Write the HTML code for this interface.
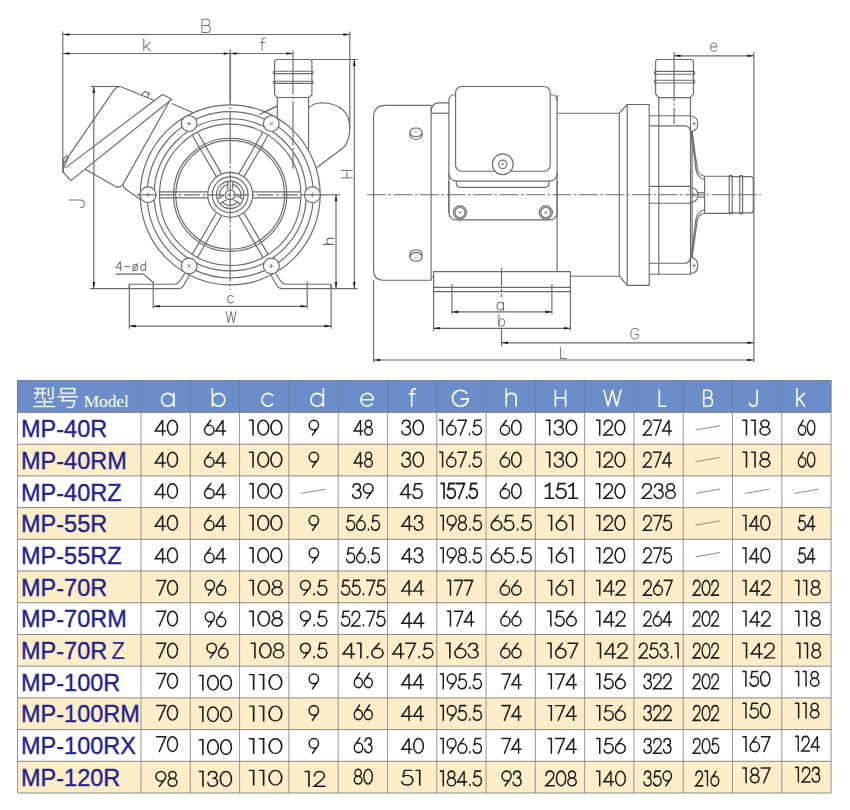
<!DOCTYPE html>
<html><head><meta charset="utf-8"><title>MP pump dimensions</title>
<style>
html,body{margin:0;padding:0;background:#fff;}
body{width:850px;height:810px;overflow:hidden;font-family:"Liberation Sans",sans-serif;}
svg{display:block;position:absolute;left:0;top:0;}
.ah{fill:#1c1c1c;stroke:none;}
.ns path{vector-effect:non-scaling-stroke;}
</style></head><body>
<svg width="850" height="810" viewBox="0 0 850 810">
<g fill="none" stroke="#6a6a6a" stroke-width="1.15" stroke-linecap="butt" stroke-linejoin="round">
<line x1="62.80" y1="31.50" x2="62.80" y2="173.00" />
<line x1="349.80" y1="31.50" x2="349.80" y2="129.00" />
<line x1="62.80" y1="34.50" x2="349.80" y2="34.50" />
<polygon points="62.80,34.50 69.30,33.20 69.30,35.80" class="ah"/>
<polygon points="349.80,34.50 343.30,35.80 343.30,33.20" class="ah"/>
<line x1="62.80" y1="53.50" x2="230.20" y2="53.50" />
<polygon points="62.80,53.50 69.30,52.20 69.30,54.80" class="ah"/>
<polygon points="230.20,53.50 223.70,54.80 223.70,52.20" class="ah"/>
<line x1="230.20" y1="53.50" x2="293.00" y2="53.50" />
<polygon points="230.20,53.50 236.70,52.20 236.70,54.80" class="ah"/>
<polygon points="293.00,53.50 286.50,54.80 286.50,52.20" class="ah"/>
<line x1="230.20" y1="49.50" x2="230.20" y2="104.00" stroke-dasharray="52 2.5 2 2.5"/>
<line x1="137.40" y1="194.80" x2="141.00" y2="194.80" />
<line x1="90.60" y1="86.50" x2="120.00" y2="86.50" />
<line x1="93.80" y1="86.50" x2="93.80" y2="288.60" />
<polygon points="93.80,86.50 95.10,93.00 92.50,93.00" class="ah"/>
<polygon points="93.80,288.60 92.50,282.10 95.10,282.10" class="ah"/>
<line x1="90.00" y1="288.60" x2="178.30" y2="288.60" />
<line x1="312.00" y1="59.50" x2="357.50" y2="59.50" />
<line x1="354.30" y1="59.50" x2="354.30" y2="288.60" />
<polygon points="354.30,59.50 355.60,66.00 353.00,66.00" class="ah"/>
<polygon points="354.30,288.60 353.00,282.10 355.60,282.10" class="ah"/>
<line x1="282.10" y1="288.60" x2="357.50" y2="288.60" />
<line x1="320.00" y1="194.80" x2="340.00" y2="194.80" />
<line x1="336.00" y1="194.80" x2="336.00" y2="288.60" />
<polygon points="336.00,194.80 337.30,201.30 334.70,201.30" class="ah"/>
<polygon points="336.00,288.60 334.70,282.10 337.30,282.10" class="ah"/>
<line x1="153.20" y1="281.20" x2="153.20" y2="308.60" />
<line x1="307.20" y1="281.20" x2="307.20" y2="308.60" />
<line x1="153.20" y1="306.30" x2="307.20" y2="306.30" />
<polygon points="153.20,306.30 159.70,305.00 159.70,307.60" class="ah"/>
<polygon points="307.20,306.30 300.70,307.60 300.70,305.00" class="ah"/>
<line x1="129.30" y1="284.20" x2="129.30" y2="328.80" />
<line x1="331.10" y1="284.20" x2="331.10" y2="328.80" />
<line x1="129.30" y1="326.10" x2="331.10" y2="326.10" />
<polygon points="129.30,326.10 135.80,324.80 135.80,327.40" class="ah"/>
<polygon points="331.10,326.10 324.60,327.40 324.60,324.80" class="ah"/>
<path d="M115.7,274.1 L143.7,274.1 L153.2,282.5" />
<path d="M120.3,86.5 Q116.5,86.6 114.3,89.6 L63.5,163.6 L63.5,172.4 L70.8,180.6 L171.8,99.2 L162.4,94.5 L65.4,167.9" />
<path d="M120.3,86.5 L153.8,100.2" />
<path d="M141.5,95.2 L144.5,91.5 L149.5,93.4 L147.2,97.5" />
<path d="M63.5,163.6 Q62,158 68,155.5 M63.5,168 Q66,163 68.5,157" />
<path d="M85.2,169.3 L115.5,186.6 Q120,188.2 122.8,184.6 L169.6,101" />
<path d="M122.8,184.6 Q123.5,188 126,189.5 L140.5,199.5" />
<path d="M171.8,103.5 L196.5,114.2" />
<path d="M274.6,94.7 L274.6,61.7 Q274.6,59.5 276.8,59.5 L309.7,59.5 Q311.9,59.5 311.9,61.7 L311.9,94.7 L308.6,97.5 L308.6,149.3 M274.6,94.7 L277.3,97.5 L277.3,118 M277.3,97.5 L308.6,97.5" />
<line x1="273.40" y1="71.20" x2="313.10" y2="71.20" />
<line x1="273.40" y1="73.60" x2="313.10" y2="73.60" />
<line x1="273.40" y1="81.20" x2="313.10" y2="81.20" />
<line x1="273.40" y1="83.40" x2="313.10" y2="83.40" />
<path d="M273.4,71.2 L273.4,73.6 M313.1,71.2 L313.1,73.6 M273.4,81.2 L273.4,83.4 M313.1,81.2 L313.1,83.4" />
<path d="M259.5,114.5 L277.3,106" />
<path d="M308.6,107.9 Q314,102.7 322.5,102.7 Q349.8,104 349.8,128.5 Q349.8,139 344.5,146.7 L316.6,167.7" />
<path d="M129.3,288.6 L129.3,284.2 L174.5,284.2 Q177.8,284.2 179.4,281.5 L184.8,273.6" />
<path d="M178.3,288.6 Q181.8,288.6 183.4,285.8 L190.2,274" />
<path d="M331.10,288.6 L331.10,284.2 L285.90,284.2 Q282.60,284.2 281.00,281.5 L275.60,273.6" />
<path d="M282.10,288.6 Q278.60,288.6 277.00,285.8 L270.20,274" />
<circle cx="230.20" cy="194.80" r="90.00" fill="#fff"/>
<circle cx="230.20" cy="194.80" r="83.20" />
<circle cx="230.20" cy="194.80" r="76.10" />
<circle cx="230.20" cy="194.80" r="70.70" />
<line x1="230.20" y1="52.70" x2="230.20" y2="290.00" stroke-dasharray="52 2.5 2 2.5"/>
<line x1="137.40" y1="194.80" x2="321.50" y2="194.80" stroke-dasharray="16 3 3 2.5" stroke-dashoffset="2.7"/>
<path d="M259.5,114.5 L277.3,106" />
<line x1="293.00" y1="50.50" x2="293.00" y2="168.50" stroke-dasharray="44 2.5 2 2.5"/>
<circle cx="230.20" cy="194.80" r="56.60" />
<circle cx="230.20" cy="194.80" r="54.40" />
<line x1="252.60" y1="197.80" x2="300.70" y2="197.80" />
<line x1="252.60" y1="191.80" x2="300.70" y2="191.80" />
<line x1="238.80" y1="215.70" x2="262.85" y2="257.35" />
<line x1="244.00" y1="212.70" x2="268.05" y2="254.35" />
<line x1="216.40" y1="212.70" x2="192.35" y2="254.35" />
<line x1="221.60" y1="215.70" x2="197.55" y2="257.35" />
<line x1="207.80" y1="191.80" x2="159.70" y2="191.80" />
<line x1="207.80" y1="197.80" x2="159.70" y2="197.80" />
<line x1="221.60" y1="173.90" x2="197.55" y2="132.25" />
<line x1="216.40" y1="176.90" x2="192.35" y2="135.25" />
<line x1="244.00" y1="176.90" x2="268.05" y2="135.25" />
<line x1="238.80" y1="173.90" x2="262.85" y2="132.25" />
<circle cx="230.20" cy="194.80" r="22.50" />
<circle cx="230.20" cy="194.80" r="17.90" />
<circle cx="230.20" cy="194.80" r="13.70" />
<path d="M238.32,201.61 A10.6,10.6 0 0 1 222.08,201.61" />
<path d="M220.24,198.43 A10.6,10.6 0 0 1 228.36,184.36" />
<path d="M232.04,184.36 A10.6,10.6 0 0 1 240.16,198.43" />
<circle cx="230.20" cy="194.80" r="4.90" />
<circle cx="230.20" cy="194.80" r="0.80" fill="#444" stroke="none"/>
<line x1="232.80" y1="189.30" x2="232.80" y2="181.30" />
<line x1="227.60" y1="189.30" x2="227.60" y2="181.30" />
<line x1="233.66" y1="199.80" x2="240.59" y2="203.80" />
<line x1="236.26" y1="195.30" x2="243.19" y2="199.30" />
<line x1="224.14" y1="195.30" x2="217.21" y2="199.30" />
<line x1="226.74" y1="199.80" x2="219.81" y2="203.80" />
<circle cx="312.40" cy="194.80" r="7.90" fill="#fff"/>
<path d="M310.20,194.80 L314.60,194.80 M312.40,192.60 L312.40,197.00" stroke-width="0.8"/>
<circle cx="271.30" cy="265.99" r="7.90" fill="#fff"/>
<path d="M269.10,265.99 L273.50,265.99 M271.30,263.79 L271.30,268.19" stroke-width="0.8"/>
<circle cx="189.10" cy="265.99" r="7.90" fill="#fff"/>
<path d="M187.34,264.23 L190.86,267.75 M187.34,267.75 L190.86,264.23" stroke-width="0.8"/>
<circle cx="148.00" cy="194.80" r="7.90" fill="#fff"/>
<path d="M145.80,194.80 L150.20,194.80 M148.00,192.60 L148.00,197.00" stroke-width="0.8"/>
<circle cx="189.10" cy="123.61" r="7.90" fill="#fff"/>
<path d="M186.90,123.61 L191.30,123.61 M189.10,121.41 L189.10,125.81" stroke-width="0.8"/>
<circle cx="271.30" cy="123.61" r="7.90" fill="#fff"/>
<path d="M269.54,121.85 L273.06,125.37 M269.54,125.37 L273.06,121.85" stroke-width="0.8"/>
<line x1="141.00" y1="194.80" x2="157.00" y2="194.80" />
<line x1="304.00" y1="194.80" x2="322.00" y2="194.80" />
<path d="M431.1,105.3 L385.6,105.3 Q373.6,105.3 373.6,117.3 L373.6,270.5 Q373.6,280.2 383.3,280.2 L431.1,280.2 Z" />
<ellipse cx="416" cy="132.4" rx="6.1" ry="4.4"/>
<path d="M409.9,132.4 L409.9,135.0 A6.1,4.4 0 0 0 422.1,135.0 L422.1,132.4" />
<path d="M414.6,132.20000000000002 L416,130.8 L417.4,132.20000000000002" stroke-width="0.8"/>
<ellipse cx="416" cy="256.8" rx="6.1" ry="4.4"/>
<path d="M409.9,256.8 L409.9,254.20000000000002 A6.1,4.4 0 0 1 422.1,254.20000000000002 L422.1,256.8" />
<path d="M414.6,257.0 L416,258.40000000000003 L417.4,257.0" stroke-width="0.8"/>
<path d="M431.1,111.5 Q431.6,102.8 439,102.8 L448.9,102.8" />
<line x1="431.10" y1="113.20" x2="448.90" y2="113.20" />
<line x1="557.10" y1="113.20" x2="619.30" y2="113.20" />
<line x1="570.40" y1="276.20" x2="619.30" y2="276.20" />
<line x1="557.10" y1="94.70" x2="557.10" y2="271.60" />
<path d="M448.9,213 L448.9,100.7 Q448.9,94.7 454.9,94.7 L455.6,94.7 M550.2,94.7 L551.1,94.7 Q557.1,94.7 557.1,100.7" />
<path d="M448.9,173.1 Q448.9,181.1 456.9,181.1 L549.1,181.1 Q557.1,181.1 557.1,173.1" />
<rect x="455.60" y="86.50" width="94.60" height="84.70" rx="6" ry="6" fill="#fff"/>
<path d="M456.3,181.1 L456.3,183.3 Q456.3,187.3 460.3,187.3 L545,187.3 Q549,187.3 549,183.3 L549,181.1" />
<path d="M448.9,181 L448.9,211.9 Q448.9,219.9 456.9,219.9 L549.1,219.9 Q557.1,219.9 557.1,211.9 L557.1,181" />
<circle cx="502.80" cy="164.30" r="10.40" fill="#fff"/>
<circle cx="502.80" cy="164.30" r="4.20" />
<path d="M501.3,162.8 L504.3,165.8 M501.3,165.8 L504.3,162.8" stroke-width="0.8"/>
<circle cx="460.00" cy="212.50" r="6.60" />
<circle cx="460.00" cy="212.50" r="5.00" />
<path d="M458.5,211.0 L461.5,214.0 M458.5,214.0 L461.5,211.0" stroke-width="0.8"/>
<circle cx="545.80" cy="212.50" r="6.60" />
<circle cx="545.80" cy="212.50" r="5.00" />
<path d="M544.3,211.0 L547.3,214.0 M544.3,214.0 L547.3,211.0" stroke-width="0.8"/>
<path d="M431.1,277 L433.6,277 M433.6,330.9 L433.6,271.6 L570.4,271.6 L570.4,330.5" />
<line x1="433.60" y1="287.30" x2="570.40" y2="287.30" />
<line x1="433.60" y1="291.60" x2="570.40" y2="291.60" />
<path d="M619.3,113.2 L627.2,104.5 L649.2,104.5 L649.2,285.4 L627.2,285.4 L619.3,276.2 Z" />
<line x1="627.20" y1="104.50" x2="627.20" y2="285.40" />
<path d="M649.2,115.7 L690.5,115.7 L690.5,274.2 L649.2,274.2" />
<path d="M649.2,125.9 L685.5,125.9 Q690,126.5 690.5,131.5 M649.2,263.2 L685.5,263.2 Q690,262.6 690.5,257.6" />
<line x1="658.80" y1="97.50" x2="658.80" y2="274.20" />
<line x1="649.20" y1="186.40" x2="690.50" y2="186.40" />
<line x1="649.20" y1="203.20" x2="690.50" y2="203.20" />
<line x1="692.10" y1="131.50" x2="692.10" y2="257.60" />
<path d="M690.5,115.7 Q697.8,116.7 697.8,123.65 Q697.8,130.6 690.5,131.6" />
<path d="M694,121.45 L694,125.85000000000001 M692.5,123.65 L696,123.65" stroke-width="0.8"/>
<path d="M690.5,257.4 Q697.8,258.4 697.8,265.6 Q697.8,272.8 690.5,273.8" />
<path d="M694,263.40000000000003 L694,267.8 M692.5,265.6 L696,265.6" stroke-width="0.8"/>
<path d="M690.5,187.2 Q697.8,188.2 697.8,194.89999999999998 Q697.8,201.6 690.5,202.6" />
<path d="M694,192.7 L694,197.09999999999997 M692.5,194.89999999999998 L696,194.89999999999998" stroke-width="0.8"/>
<path d="M692.1,131.7 L697.3,169 Q698.5,175.5 704.6,176.2 M690.9,131.7 L696,170 Q697.5,178 704.6,179.5" />
<path d="M692.1,257.4 L697.3,220.2 Q698.5,213.9 704.6,213.3 M690.9,257.4 L696,219.2 Q697.5,211.2 704.6,209.8" />
<line x1="697.80" y1="192.70" x2="704.60" y2="192.70" />
<line x1="697.80" y1="197.00" x2="704.60" y2="197.00" />
<path d="M704.6,176.2 L704.6,213.3 M704.6,176.2 L729.2,176.2 M704.6,213.3 L729.2,213.3" />
<path d="M729.2,176.6 L750.3,176.6 Q753.3,176.6 753.3,179.6 L753.3,209.9 Q753.3,212.9 750.3,212.9 L729.2,212.9" />
<line x1="729.20" y1="175.60" x2="729.20" y2="213.90" />
<line x1="732.20" y1="175.60" x2="732.20" y2="213.90" />
<line x1="739.80" y1="175.60" x2="739.80" y2="213.90" />
<line x1="742.60" y1="175.60" x2="742.60" y2="213.90" />
<path d="M729.2,175.6 L732.2,175.6 M739.8,175.6 L742.6,175.6 M729.2,213.9 L732.2,213.9 M739.8,213.9 L742.6,213.9" />
<path d="M655.6,94 L655.6,61.7 Q655.6,59.5 657.8000000000001,59.5 L691.1999999999999,59.5 Q693.4,59.5 693.4,61.7 L693.4,94 L690.4,97.6 L690.4,115.7 M655.6,94 L658.8,97.6 L690.4,97.6" />
<line x1="654.50" y1="71.40" x2="694.50" y2="71.40" />
<line x1="654.50" y1="74.20" x2="694.50" y2="74.20" />
<line x1="654.50" y1="80.20" x2="694.50" y2="80.20" />
<line x1="654.50" y1="83.00" x2="694.50" y2="83.00" />
<path d="M654.5,71.4 L654.5,74.2 M694.5,71.4 L694.5,74.2 M654.5,80.2 L654.5,83 M694.5,80.2 L694.5,83" />
<line x1="367.00" y1="194.70" x2="761.00" y2="194.70" stroke-dasharray="19 2.5 2.5 2.5"/>
<line x1="674.10" y1="52.00" x2="674.10" y2="124.00" stroke-dasharray="49 2.5 2 2.5"/>
<line x1="501.50" y1="268.00" x2="501.50" y2="297.00" stroke-dasharray="18.5 2.5 2 2.5"/>
<line x1="501.50" y1="328.30" x2="501.50" y2="346.00" />
<line x1="674.10" y1="55.80" x2="753.90" y2="55.80" />
<polygon points="674.10,55.80 680.60,54.50 680.60,57.10" class="ah"/>
<polygon points="753.90,55.80 747.40,57.10 747.40,54.50" class="ah"/>
<line x1="753.90" y1="52.00" x2="753.90" y2="362.50" />
<line x1="451.90" y1="284.00" x2="451.90" y2="314.20" />
<line x1="551.90" y1="284.00" x2="551.90" y2="314.20" />
<line x1="451.90" y1="311.90" x2="551.90" y2="311.90" />
<polygon points="451.90,311.90 458.40,310.60 458.40,313.20" class="ah"/>
<polygon points="551.90,311.90 545.40,313.20 545.40,310.60" class="ah"/>
<line x1="433.60" y1="328.30" x2="570.40" y2="328.30" />
<polygon points="433.60,328.30 440.10,327.00 440.10,329.60" class="ah"/>
<polygon points="570.40,328.30 563.90,329.60 563.90,327.00" class="ah"/>
<line x1="501.50" y1="342.80" x2="753.90" y2="342.80" />
<polygon points="501.50,342.80 508.00,341.50 508.00,344.10" class="ah"/>
<polygon points="753.90,342.80 747.40,344.10 747.40,341.50" class="ah"/>
<line x1="373.60" y1="280.00" x2="373.60" y2="362.50" />
<line x1="373.60" y1="360.00" x2="753.90" y2="360.00" />
<polygon points="373.60,360.00 380.10,358.70 380.10,361.30" class="ah"/>
<polygon points="753.90,360.00 747.40,361.30 747.40,358.70" class="ah"/>
</g>
<g fill="none" stroke="#707070" stroke-linecap="round" stroke-linejoin="round">
<g class="lbl" stroke-width="0.0752" transform="translate(206.20,25.80) rotate(0) scale(11.970,-13.300) translate(0,-0.5)"><path d="M0,0 L0,1 L0.4,1 Q0.66,1 0.66,0.76 Q0.66,0.52 0.4,0.52 L0,0.52 M0.4,0.52 Q0.72,0.52 0.72,0.26 Q0.72,0 0.4,0 L0,0" transform="translate(-0.360,0)"/></g>
<g class="lbl" stroke-width="0.0820" transform="translate(147.00,44.60) rotate(0) scale(12.810,-12.200) translate(0,-0.5)"><path d="M0,0 L0,1 M0.48,0.66 L0,0.22 M0.17,0.38 L0.5,0" transform="translate(-0.250,0)"/></g>
<g class="lbl" stroke-width="0.0794" transform="translate(262.70,44.20) rotate(0) scale(11.970,-12.600) translate(0,-0.5)"><path d="M0.16,0 L0.16,0.78 Q0.16,1 0.42,1 M0,0.64 L0.4,0.64" transform="translate(-0.210,0)"/></g>
<g class="lbl" stroke-width="0.0667" transform="translate(76.80,203.70) rotate(-90) scale(15.000,-15.000) translate(0,-0.5)"><path d="M0.5,1 L0.5,0.26 Q0.5,0 0.25,0 Q0,0 0,0.26" transform="translate(-0.250,0)"/></g>
<g class="lbl" stroke-width="0.0917" transform="translate(346.90,174.10) rotate(-90) scale(10.900,-10.900) translate(0,-0.5)"><path d="M0,0 L0,1 M0.68,0 L0.68,1 M0,0.5 L0.68,0.5" transform="translate(-0.340,0)"/></g>
<g class="lbl" stroke-width="0.0917" transform="translate(328.60,241.40) rotate(-90) scale(11.990,-10.900) translate(0,-0.5)"><path d="M0,0 L0,1 M0,0.42 Q0.02,0.66 0.26,0.66 Q0.5,0.66 0.5,0.42 L0.5,0" transform="translate(-0.250,0)"/></g>
<g class="lbl" stroke-width="0.0893" transform="translate(230.50,299.30) rotate(0) scale(11.200,-11.200) translate(0,-0.33)"><path d="M0.5,0.52 Q0.46,0.66 0.27,0.66 Q0,0.66 0,0.33 Q0,0 0.27,0 Q0.46,0 0.5,0.14" transform="translate(-0.250,0)"/></g>
<g class="lbl" stroke-width="0.0893" transform="translate(231.00,317.00) rotate(0) scale(10.976,-11.200) translate(0,-0.5)"><path d="M0,1 L0.22,0 L0.45,1 L0.68,0 L0.9,1" transform="translate(-0.450,0)"/></g>
<g class="lbl" stroke-width="0.1087" transform="translate(130.80,266.00) rotate(0) scale(9.660,-9.200) translate(0,-0.5)"><path d="M0.45,0 L0.45,1 L0,0.3 L0.6,0.3" transform="translate(-1.530,0)"/><path d="M0,0.45 L0.5,0.45" transform="translate(-0.610,0)"/><path d="M0.25,0.66 Q0,0.66 0,0.33 Q0,0 0.25,0 Q0.5,0 0.5,0.33 Q0.5,0.66 0.25,0.66 Z M0.02,-0.08 L0.5,0.76" transform="translate(0.210,0)"/><path d="M0.5,1 L0.5,0 M0.5,0.33 Q0.5,0.66 0.25,0.66 Q0,0.66 0,0.33 Q0,0 0.25,0 Q0.5,0 0.5,0.33" transform="translate(1.030,0)"/></g>
<g class="lbl" stroke-width="0.0800" transform="translate(713.80,47.20) rotate(0) scale(12.500,-12.500) translate(0,-0.33)"><path d="M0,0.35 L0.52,0.35 Q0.52,0.66 0.26,0.66 Q0,0.66 0,0.33 Q0,0 0.27,0 Q0.45,0 0.5,0.13" transform="translate(-0.260,0)"/></g>
<g class="lbl" stroke-width="0.0862" transform="translate(500.30,306.20) rotate(0) scale(12.760,-11.600) translate(0,-0.33)"><path d="M0.5,0.66 L0.5,0 M0.5,0.33 Q0.5,0.66 0.25,0.66 Q0,0.66 0,0.33 Q0,0 0.25,0 Q0.5,0 0.5,0.33" transform="translate(-0.250,0)"/></g>
<g class="lbl" stroke-width="0.0862" transform="translate(501.80,320.50) rotate(0) scale(11.600,-11.600) translate(0,-0.5)"><path d="M0,1 L0,0 M0,0.33 Q0,0.66 0.25,0.66 Q0.5,0.66 0.5,0.33 Q0.5,0 0.25,0 Q0,0 0,0.33" transform="translate(-0.250,0)"/></g>
<g class="lbl" stroke-width="0.0917" transform="translate(634.70,333.70) rotate(0) scale(10.682,-10.900) translate(0,-0.5)"><path d="M0.7,0.78 Q0.62,1 0.38,1 Q0,1 0,0.5 Q0,0 0.38,0 Q0.72,0 0.72,0.42 L0.4,0.42" transform="translate(-0.360,0)"/></g>
<g class="lbl" stroke-width="0.0901" transform="translate(563.30,353.00) rotate(0) scale(10.545,-11.100) translate(0,-0.5)"><path d="M0,1 L0,0 L0.55,0" transform="translate(-0.275,0)"/></g>
</g>
<rect x="17.5" y="380.5" width="813.6" height="32.0" fill="#6b8ecb"/>
<rect x="17.5" y="444.21" width="813.6" height="31.71" fill="#fdedc8"/>
<rect x="17.5" y="507.62" width="813.6" height="31.71" fill="#fdedc8"/>
<rect x="17.5" y="571.04" width="813.6" height="31.71" fill="#fdedc8"/>
<rect x="17.5" y="634.46" width="813.6" height="31.71" fill="#fdedc8"/>
<rect x="17.5" y="697.88" width="813.6" height="31.71" fill="#fdedc8"/>
<rect x="17.5" y="761.29" width="813.6" height="31.71" fill="#fdedc8"/>
<g stroke="#8a8a8a" stroke-width="1" fill="none">
<line x1="17.50" y1="412.50" x2="17.50" y2="793.00" stroke="#969696"/>
<line x1="141.00" y1="412.50" x2="141.00" y2="793.00" stroke="#969696"/>
<line x1="190.29" y1="412.50" x2="190.29" y2="793.00" stroke="#969696"/>
<line x1="239.59" y1="412.50" x2="239.59" y2="793.00" stroke="#969696"/>
<line x1="288.88" y1="412.50" x2="288.88" y2="793.00" stroke="#969696"/>
<line x1="338.17" y1="412.50" x2="338.17" y2="793.00" stroke="#969696"/>
<line x1="387.46" y1="412.50" x2="387.46" y2="793.00" stroke="#969696"/>
<line x1="436.76" y1="412.50" x2="436.76" y2="793.00" stroke="#969696"/>
<line x1="486.05" y1="412.50" x2="486.05" y2="793.00" stroke="#969696"/>
<line x1="535.34" y1="412.50" x2="535.34" y2="793.00" stroke="#969696"/>
<line x1="584.64" y1="412.50" x2="584.64" y2="793.00" stroke="#969696"/>
<line x1="633.93" y1="412.50" x2="633.93" y2="793.00" stroke="#969696"/>
<line x1="683.22" y1="412.50" x2="683.22" y2="793.00" stroke="#969696"/>
<line x1="732.51" y1="412.50" x2="732.51" y2="793.00" stroke="#969696"/>
<line x1="781.81" y1="412.50" x2="781.81" y2="793.00" stroke="#969696"/>
<line x1="831.10" y1="412.50" x2="831.10" y2="793.00" stroke="#969696"/>
<line x1="17.50" y1="412.50" x2="831.10" y2="412.50" />
<line x1="17.50" y1="444.21" x2="831.10" y2="444.21" />
<line x1="17.50" y1="475.92" x2="831.10" y2="475.92" />
<line x1="17.50" y1="507.62" x2="831.10" y2="507.62" />
<line x1="17.50" y1="539.33" x2="831.10" y2="539.33" />
<line x1="17.50" y1="571.04" x2="831.10" y2="571.04" />
<line x1="17.50" y1="602.75" x2="831.10" y2="602.75" />
<line x1="17.50" y1="634.46" x2="831.10" y2="634.46" />
<line x1="17.50" y1="666.17" x2="831.10" y2="666.17" />
<line x1="17.50" y1="697.88" x2="831.10" y2="697.88" />
<line x1="17.50" y1="729.58" x2="831.10" y2="729.58" />
<line x1="17.50" y1="761.29" x2="831.10" y2="761.29" />
<line x1="17.50" y1="793.00" x2="831.10" y2="793.00" />
</g>
<g stroke="#6f7c9c" stroke-width="1" fill="none">
<line x1="17.50" y1="380.50" x2="17.50" y2="412.50" />
<line x1="141.00" y1="380.50" x2="141.00" y2="412.50" />
<line x1="190.29" y1="380.50" x2="190.29" y2="412.50" />
<line x1="239.59" y1="380.50" x2="239.59" y2="412.50" />
<line x1="288.88" y1="380.50" x2="288.88" y2="412.50" />
<line x1="338.17" y1="380.50" x2="338.17" y2="412.50" />
<line x1="387.46" y1="380.50" x2="387.46" y2="412.50" />
<line x1="436.76" y1="380.50" x2="436.76" y2="412.50" />
<line x1="486.05" y1="380.50" x2="486.05" y2="412.50" />
<line x1="535.34" y1="380.50" x2="535.34" y2="412.50" />
<line x1="584.64" y1="380.50" x2="584.64" y2="412.50" />
<line x1="633.93" y1="380.50" x2="633.93" y2="412.50" />
<line x1="683.22" y1="380.50" x2="683.22" y2="412.50" />
<line x1="732.51" y1="380.50" x2="732.51" y2="412.50" />
<line x1="781.81" y1="380.50" x2="781.81" y2="412.50" />
<line x1="831.10" y1="380.50" x2="831.10" y2="412.50" />
<line x1="17.00" y1="380.50" x2="831.60" y2="380.50" stroke="#7a7f8c"/>
</g>
<defs>
<path id="g0" d="M0.730,0.500 A0.330,0.500 0 1 0 0.070,0.500 A0.330,0.500 0 1 0 0.730,0.500 Z"/>
<path id="g1" d="M0.085,1 L0.30,1 L0.30,0"/>
<path id="g2" d="M0.10,0.80 L0.36,1 L0.36,0 M0.10,0 L0.62,0"/>
<path id="g3" d="M0.09,0.70 C0.09,0.88 0.21,1 0.37,1 C0.53,1 0.65,0.88 0.65,0.72 C0.65,0.58 0.57,0.49 0.46,0.39 L0.07,0 L0.68,0"/>
<path id="g4" d="M0.10,0.76 C0.12,0.91 0.22,1 0.35,1 C0.50,1 0.60,0.90 0.60,0.77 C0.60,0.63 0.50,0.55 0.33,0.55 C0.52,0.55 0.64,0.44 0.64,0.28 C0.64,0.12 0.52,0 0.35,0 C0.20,0 0.09,0.10 0.07,0.25"/>
<path id="g5" d="M0.55,0 L0.55,1 L0.06,0.27 L0.73,0.27"/>
<path id="g6" d="M0.62,1 L0.22,1 L0.13,0.54 C0.19,0.62 0.28,0.66 0.37,0.66 C0.55,0.66 0.68,0.51 0.68,0.33 C0.68,0.14 0.55,0 0.36,0 C0.21,0 0.10,0.09 0.07,0.23"/>
<path id="g7" d="M0.730,0.330 A0.330,0.330 0 1 0 0.070,0.330 A0.330,0.330 0 1 0 0.730,0.330 Z M0.115,0.50 L0.50,1"/>
<path id="g8" d="M0.730,0.670 A0.330,0.330 0 1 0 0.070,0.670 A0.330,0.330 0 1 0 0.730,0.670 Z M0.685,0.50 L0.30,0"/>
<path id="g9" d="M0.06,1 L0.66,1 L0.24,0"/>
<path id="g10" d="M0.625,0.765 A0.245,0.235 0 1 0 0.135,0.765 A0.245,0.235 0 1 0 0.625,0.765 Z M0.680,0.265 A0.300,0.265 0 1 0 0.080,0.265 A0.300,0.265 0 1 0 0.680,0.265 Z"/>
<path id="g11" d="M0.17,0.09 L0.17,0.01"/>
<path id="g12" d="M0.870,0.400 A0.390,0.400 0 1 0 0.090,0.400 A0.390,0.400 0 1 0 0.870,0.400 Z M0.87,0.8 L0.87,0"/>
<path id="g13" d="M0.910,0.400 A0.390,0.400 0 1 0 0.130,0.400 A0.390,0.400 0 1 0 0.910,0.400 Z M0.13,1.08 L0.13,0"/>
<path id="g14" d="M0.870,0.400 A0.390,0.400 0 1 0 0.090,0.400 A0.390,0.400 0 1 0 0.870,0.400 Z M0.87,1.08 L0.87,0"/>
<path id="g15" d="M0.790,0.668 A0.390,0.400 0 1 1 0.790,0.132"/>
<path id="g16" d="M0.09,0.40 L0.87,0.40 M0.870,0.400 A0.390,0.400 0 1 1 0.787,0.154"/>
<path id="g17" d="M0.16,0 L0.16,0.86 C0.16,1.02 0.24,1.08 0.40,1.08 M0.02,0.77 L0.36,0.77"/>
<path id="g18" d="M0.969,0.808 A0.500,0.500 0 1 1 1.073,0.456 L0.62,0.456"/>
<path id="g19" d="M0.10,1.08 L0.10,0 M0.10,0.50 C0.10,0.70 0.22,0.80 0.41,0.80 C0.60,0.80 0.72,0.70 0.72,0.50 L0.72,0"/>
<path id="g20" d="M0.10,1 L0.10,0 M0.74,1 L0.74,0 M0.10,0.51 L0.74,0.51"/>
<path id="g21" d="M0.04,1 L0.30,0 L0.57,1 L0.84,0 L1.10,1"/>
<path id="g22" d="M0.10,1 L0.10,0 L0.50,0"/>
<path id="g23" d="M0.10,0 L0.10,1 L0.34,1 C0.52,1 0.60,0.90 0.60,0.76 C0.60,0.62 0.52,0.53 0.36,0.53 L0.10,0.53 M0.36,0.53 C0.56,0.53 0.65,0.42 0.65,0.27 C0.65,0.11 0.55,0 0.36,0 L0.10,0"/>
<path id="g24" d="M0.52,1 L0.52,0.24 C0.52,0.08 0.44,0 0.29,0 C0.16,0 0.08,0.07 0.05,0.18"/>
<path id="g25" d="M0.10,1.08 L0.10,0 M0.56,0.80 L0.10,0.34 M0.24,0.48 L0.58,0"/>
</defs>
<g fill="#fff" stroke="#fff" stroke-width="16" transform="translate(32.3,406.2) scale(0.024,-0.023)"><path d="M649 778V445H695V778ZM838 832V373C838 359 834 355 818 354C802 353 752 353 688 355C696 341 703 322 706 308C778 308 826 309 851 317C877 325 884 339 884 372V832ZM403 746V590H255V605V746ZM74 590V545H206C197 470 165 390 73 328C82 320 99 303 106 293C207 362 242 457 252 545H403V318H449V545H575V590H449V746H555V791H107V746H210V606V590ZM485 339V208H154V163H485V8H48V-38H953V8H533V163H845V208H533V339Z"/><path d="M241 745H757V584H241ZM193 790V540H807V790ZM69 433V388H286C266 328 241 258 220 211H249L749 210C726 67 705 2 675 -20C664 -29 653 -30 627 -30C601 -30 529 -29 456 -21C466 -35 471 -54 473 -68C542 -73 609 -74 640 -73C675 -72 694 -68 714 -52C750 -20 776 54 803 230C805 238 806 255 806 255H293C308 296 325 344 338 388H928V433Z" transform="translate(980,0)"/></g>
<text x="83.7" y="407.3" font-family="Liberation Serif, serif" font-size="17.3" fill="#fff">Model</text>
<g fill="none" stroke="#fff" stroke-width="0.1000" stroke-linecap="round" stroke-miterlimit="3" transform="translate(168.10,406.20) scale(16.000,-16.000)"><use href="#g12" x="-0.500"/></g>
<g fill="none" stroke="#fff" stroke-width="0.1000" stroke-linecap="round" stroke-miterlimit="3" transform="translate(218.30,406.20) scale(16.000,-16.000)"><use href="#g13" x="-0.500"/></g>
<g fill="none" stroke="#fff" stroke-width="0.1000" stroke-linecap="round" stroke-miterlimit="3" transform="translate(267.50,406.20) scale(16.000,-16.000)"><use href="#g15" x="-0.460"/></g>
<g fill="none" stroke="#fff" stroke-width="0.1000" stroke-linecap="round" stroke-miterlimit="3" transform="translate(317.50,406.20) scale(16.000,-16.000)"><use href="#g14" x="-0.500"/></g>
<g fill="none" stroke="#fff" stroke-width="0.1000" stroke-linecap="round" stroke-miterlimit="3" transform="translate(367.10,406.20) scale(16.000,-16.000)"><use href="#g16" x="-0.480"/></g>
<g fill="none" stroke="#fff" stroke-width="0.1000" stroke-linecap="round" stroke-miterlimit="3" transform="translate(412.70,406.20) scale(16.000,-16.000)"><use href="#g17" x="-0.225"/></g>
<g fill="none" stroke="#fff" stroke-width="0.1000" stroke-linecap="round" stroke-miterlimit="3" transform="translate(460.50,406.20) scale(16.000,-16.000)"><use href="#g18" x="-0.575"/></g>
<g fill="none" stroke="#fff" stroke-width="0.1000" stroke-linecap="round" stroke-miterlimit="3" transform="translate(511.20,406.20) scale(16.000,-16.000)"><use href="#g19" x="-0.410"/></g>
<g fill="none" stroke="#fff" stroke-width="0.1000" stroke-linecap="round" stroke-miterlimit="3" transform="translate(560.50,406.20) scale(16.000,-16.000)"><use href="#g20" x="-0.420"/></g>
<g fill="none" stroke="#fff" stroke-width="0.1000" stroke-linecap="round" stroke-miterlimit="3" transform="translate(612.40,406.20) scale(16.000,-16.000)"><use href="#g21" x="-0.570"/></g>
<g fill="none" stroke="#fff" stroke-width="0.1000" stroke-linecap="round" stroke-miterlimit="3" transform="translate(662.10,406.20) scale(16.000,-16.000)"><use href="#g22" x="-0.275"/></g>
<g fill="none" stroke="#fff" stroke-width="0.1000" stroke-linecap="round" stroke-miterlimit="3" transform="translate(707.90,406.20) scale(16.000,-16.000)"><use href="#g23" x="-0.360"/></g>
<g fill="none" stroke="#fff" stroke-width="0.1000" stroke-linecap="round" stroke-miterlimit="3" transform="translate(753.70,406.20) scale(16.000,-16.000)"><use href="#g24" x="-0.310"/></g>
<g fill="none" stroke="#fff" stroke-width="0.1000" stroke-linecap="round" stroke-miterlimit="3" transform="translate(800.30,406.20) scale(16.000,-16.000)"><use href="#g25" x="-0.310"/></g>
<g font-family="Liberation Sans, sans-serif">
<text x="21" y="437.10" font-size="23.5" fill="#23238e" stroke="#23238e" stroke-width="0.35">MP-40R</text>
<g fill="none" stroke="#1c1c1c" stroke-width="0.1007" stroke-linecap="round" stroke-miterlimit="3" transform="translate(154.34,434.95) scale(15.102,-14.700)"><use href="#g5" x="0.000"/><use href="#g0" x="0.800"/></g>
<g fill="none" stroke="#1c1c1c" stroke-width="0.1032" stroke-linecap="round" stroke-miterlimit="3" transform="translate(203.54,434.95) scale(14.384,-14.700)"><use href="#g7" x="0.000"/><use href="#g5" x="0.800"/></g>
<g fill="none" stroke="#1c1c1c" stroke-width="0.0965" stroke-linecap="round" stroke-miterlimit="3" transform="translate(248.16,434.95) scale(16.387,-14.700)"><use href="#g1" x="0.000"/><use href="#g0" x="0.520"/><use href="#g0" x="1.320"/></g>
<g fill="none" stroke="#1c1c1c" stroke-width="0.1037" stroke-linecap="round" stroke-miterlimit="3" transform="translate(308.15,434.95) scale(14.242,-14.700)"><use href="#g8" x="0.000"/></g>
<g fill="none" stroke="#1c1c1c" stroke-width="0.1093" stroke-linecap="round" stroke-miterlimit="3" transform="translate(353.49,434.95) scale(12.746,-14.700)"><use href="#g5" x="0.000"/><use href="#g10" x="0.800"/></g>
<g fill="none" stroke="#1c1c1c" stroke-width="0.0998" stroke-linecap="round" stroke-miterlimit="3" transform="translate(400.78,434.95) scale(15.357,-14.700)"><use href="#g4" x="0.000"/><use href="#g0" x="0.740"/></g>
<g fill="none" stroke="#1c1c1c" stroke-width="0.1042" stroke-linecap="round" stroke-miterlimit="3" transform="translate(438.35,434.95) scale(14.084,-14.700)"><use href="#g1" x="0.000"/><use href="#g7" x="0.520"/><use href="#g9" x="1.320"/><use href="#g11" x="2.040"/><use href="#g6" x="2.380"/></g>
<g fill="none" stroke="#1c1c1c" stroke-width="0.1036" stroke-linecap="round" stroke-miterlimit="3" transform="translate(499.25,434.95) scale(14.247,-14.700)"><use href="#g7" x="0.000"/><use href="#g0" x="0.800"/></g>
<g fill="none" stroke="#1c1c1c" stroke-width="0.0977" stroke-linecap="round" stroke-miterlimit="3" transform="translate(544.89,434.95) scale(16.010,-14.700)"><use href="#g1" x="0.000"/><use href="#g4" x="0.520"/><use href="#g0" x="1.260"/></g>
<g fill="none" stroke="#1c1c1c" stroke-width="0.1022" stroke-linecap="round" stroke-miterlimit="3" transform="translate(595.30,434.95) scale(14.649,-14.700)"><use href="#g1" x="0.000"/><use href="#g3" x="0.520"/><use href="#g0" x="1.280"/></g>
<g fill="none" stroke="#1c1c1c" stroke-width="0.1082" stroke-linecap="round" stroke-miterlimit="3" transform="translate(642.64,434.95) scale(13.037,-14.700)"><use href="#g3" x="0.000"/><use href="#g9" x="0.760"/><use href="#g5" x="1.480"/></g>
<line x1="695.67" y1="430.00" x2="720.07" y2="425.70" stroke="#808080" stroke-width="0.9"/>
<g fill="none" stroke="#1c1c1c" stroke-width="0.0963" stroke-linecap="round" stroke-miterlimit="3" transform="translate(741.55,434.95) scale(16.453,-14.700)"><use href="#g1" x="0.000"/><use href="#g1" x="0.520"/><use href="#g10" x="1.040"/></g>
<g fill="none" stroke="#1c1c1c" stroke-width="0.1154" stroke-linecap="round" stroke-miterlimit="3" transform="translate(797.56,434.95) scale(11.301,-14.700)"><use href="#g7" x="0.000"/><use href="#g0" x="0.800"/></g>
<text x="21" y="468.81" font-size="23.5" fill="#23238e" stroke="#23238e" stroke-width="0.35">MP-40RM</text>
<g fill="none" stroke="#1c1c1c" stroke-width="0.1007" stroke-linecap="round" stroke-miterlimit="3" transform="translate(154.34,466.96) scale(15.102,-14.700)"><use href="#g5" x="0.000"/><use href="#g0" x="0.800"/></g>
<g fill="none" stroke="#1c1c1c" stroke-width="0.1032" stroke-linecap="round" stroke-miterlimit="3" transform="translate(203.54,466.96) scale(14.384,-14.700)"><use href="#g7" x="0.000"/><use href="#g5" x="0.800"/></g>
<g fill="none" stroke="#1c1c1c" stroke-width="0.0965" stroke-linecap="round" stroke-miterlimit="3" transform="translate(248.16,466.96) scale(16.387,-14.700)"><use href="#g1" x="0.000"/><use href="#g0" x="0.520"/><use href="#g0" x="1.320"/></g>
<g fill="none" stroke="#1c1c1c" stroke-width="0.1037" stroke-linecap="round" stroke-miterlimit="3" transform="translate(308.15,466.96) scale(14.242,-14.700)"><use href="#g8" x="0.000"/></g>
<g fill="none" stroke="#1c1c1c" stroke-width="0.1093" stroke-linecap="round" stroke-miterlimit="3" transform="translate(353.49,466.96) scale(12.746,-14.700)"><use href="#g5" x="0.000"/><use href="#g10" x="0.800"/></g>
<g fill="none" stroke="#1c1c1c" stroke-width="0.0998" stroke-linecap="round" stroke-miterlimit="3" transform="translate(400.78,466.96) scale(15.357,-14.700)"><use href="#g4" x="0.000"/><use href="#g0" x="0.740"/></g>
<g fill="none" stroke="#1c1c1c" stroke-width="0.1042" stroke-linecap="round" stroke-miterlimit="3" transform="translate(438.35,466.96) scale(14.084,-14.700)"><use href="#g1" x="0.000"/><use href="#g7" x="0.520"/><use href="#g9" x="1.320"/><use href="#g11" x="2.040"/><use href="#g6" x="2.380"/></g>
<g fill="none" stroke="#1c1c1c" stroke-width="0.1036" stroke-linecap="round" stroke-miterlimit="3" transform="translate(499.25,466.96) scale(14.247,-14.700)"><use href="#g7" x="0.000"/><use href="#g0" x="0.800"/></g>
<g fill="none" stroke="#1c1c1c" stroke-width="0.0977" stroke-linecap="round" stroke-miterlimit="3" transform="translate(544.89,466.96) scale(16.010,-14.700)"><use href="#g1" x="0.000"/><use href="#g4" x="0.520"/><use href="#g0" x="1.260"/></g>
<g fill="none" stroke="#1c1c1c" stroke-width="0.1022" stroke-linecap="round" stroke-miterlimit="3" transform="translate(595.30,466.96) scale(14.649,-14.700)"><use href="#g1" x="0.000"/><use href="#g3" x="0.520"/><use href="#g0" x="1.280"/></g>
<g fill="none" stroke="#1c1c1c" stroke-width="0.1082" stroke-linecap="round" stroke-miterlimit="3" transform="translate(642.64,466.96) scale(13.037,-14.700)"><use href="#g3" x="0.000"/><use href="#g9" x="0.760"/><use href="#g5" x="1.480"/></g>
<line x1="695.67" y1="461.71" x2="720.07" y2="457.41" stroke="#808080" stroke-width="0.9"/>
<g fill="none" stroke="#1c1c1c" stroke-width="0.0963" stroke-linecap="round" stroke-miterlimit="3" transform="translate(741.55,466.96) scale(16.453,-14.700)"><use href="#g1" x="0.000"/><use href="#g1" x="0.520"/><use href="#g10" x="1.040"/></g>
<g fill="none" stroke="#1c1c1c" stroke-width="0.1154" stroke-linecap="round" stroke-miterlimit="3" transform="translate(797.56,466.96) scale(11.301,-14.700)"><use href="#g7" x="0.000"/><use href="#g0" x="0.800"/></g>
<text x="21" y="500.52" font-size="23.5" fill="#23238e" stroke="#23238e" stroke-width="0.35">MP-40RZ</text>
<g fill="none" stroke="#1c1c1c" stroke-width="0.1007" stroke-linecap="round" stroke-miterlimit="3" transform="translate(154.34,498.37) scale(15.102,-14.700)"><use href="#g5" x="0.000"/><use href="#g0" x="0.800"/></g>
<g fill="none" stroke="#1c1c1c" stroke-width="0.1032" stroke-linecap="round" stroke-miterlimit="3" transform="translate(203.54,498.37) scale(14.384,-14.700)"><use href="#g7" x="0.000"/><use href="#g5" x="0.800"/></g>
<g fill="none" stroke="#1c1c1c" stroke-width="0.0965" stroke-linecap="round" stroke-miterlimit="3" transform="translate(248.16,498.37) scale(16.387,-14.700)"><use href="#g1" x="0.000"/><use href="#g0" x="0.520"/><use href="#g0" x="1.320"/></g>
<line x1="301.32" y1="493.42" x2="325.72" y2="489.12" stroke="#808080" stroke-width="0.9"/>
<g fill="none" stroke="#1c1c1c" stroke-width="0.1022" stroke-linecap="round" stroke-miterlimit="3" transform="translate(351.53,498.37) scale(14.643,-14.700)"><use href="#g4" x="0.000"/><use href="#g8" x="0.740"/></g>
<g fill="none" stroke="#1c1c1c" stroke-width="0.1005" stroke-linecap="round" stroke-miterlimit="3" transform="translate(399.74,498.37) scale(15.141,-14.700)"><use href="#g5" x="0.000"/><use href="#g6" x="0.800"/></g>
<g fill="none" stroke="#1c1c1c" stroke-width="0.1245" stroke-linecap="round" stroke-miterlimit="3" transform="translate(440.03,498.24) scale(13.414,-14.700)"><use href="#g1" x="0.000"/><use href="#g6" x="0.460"/><use href="#g9" x="1.160"/><use href="#g11" x="1.820"/><use href="#g6" x="2.100"/></g>
<g fill="none" stroke="#1c1c1c" stroke-width="0.1036" stroke-linecap="round" stroke-miterlimit="3" transform="translate(499.25,498.37) scale(14.247,-14.700)"><use href="#g7" x="0.000"/><use href="#g0" x="0.800"/></g>
<g fill="none" stroke="#1c1c1c" stroke-width="0.1102" stroke-linecap="round" stroke-miterlimit="3" transform="translate(543.73,498.27) scale(16.162,-14.700)"><use href="#g2" x="0.000"/><use href="#g6" x="0.700"/><use href="#g2" x="1.460"/></g>
<g fill="none" stroke="#1c1c1c" stroke-width="0.1022" stroke-linecap="round" stroke-miterlimit="3" transform="translate(595.30,498.37) scale(14.649,-14.700)"><use href="#g1" x="0.000"/><use href="#g3" x="0.520"/><use href="#g0" x="1.280"/></g>
<g fill="none" stroke="#1c1c1c" stroke-width="0.0990" stroke-linecap="round" stroke-miterlimit="3" transform="translate(641.26,498.37) scale(15.592,-14.700)"><use href="#g3" x="0.000"/><use href="#g4" x="0.760"/><use href="#g10" x="1.500"/></g>
<line x1="695.67" y1="493.42" x2="720.07" y2="489.12" stroke="#808080" stroke-width="0.9"/>
<line x1="744.96" y1="493.42" x2="769.36" y2="489.12" stroke="#808080" stroke-width="0.9"/>
<line x1="794.25" y1="493.42" x2="818.65" y2="489.12" stroke="#808080" stroke-width="0.9"/>
<text x="21" y="532.23" font-size="23.5" fill="#23238e" stroke="#23238e" stroke-width="0.35">MP-55R</text>
<g fill="none" stroke="#1c1c1c" stroke-width="0.1007" stroke-linecap="round" stroke-miterlimit="3" transform="translate(154.34,530.27) scale(15.102,-14.700)"><use href="#g5" x="0.000"/><use href="#g0" x="0.800"/></g>
<g fill="none" stroke="#1c1c1c" stroke-width="0.1032" stroke-linecap="round" stroke-miterlimit="3" transform="translate(203.54,530.27) scale(14.384,-14.700)"><use href="#g7" x="0.000"/><use href="#g5" x="0.800"/></g>
<g fill="none" stroke="#1c1c1c" stroke-width="0.0965" stroke-linecap="round" stroke-miterlimit="3" transform="translate(248.16,530.27) scale(16.387,-14.700)"><use href="#g1" x="0.000"/><use href="#g0" x="0.520"/><use href="#g0" x="1.320"/></g>
<g fill="none" stroke="#1c1c1c" stroke-width="0.1037" stroke-linecap="round" stroke-miterlimit="3" transform="translate(308.15,530.27) scale(14.242,-14.700)"><use href="#g8" x="0.000"/></g>
<g fill="none" stroke="#1c1c1c" stroke-width="0.1080" stroke-linecap="round" stroke-miterlimit="3" transform="translate(345.74,530.27) scale(13.068,-14.700)"><use href="#g6" x="0.000"/><use href="#g7" x="0.760"/><use href="#g11" x="1.560"/><use href="#g6" x="1.900"/></g>
<g fill="none" stroke="#1c1c1c" stroke-width="0.1003" stroke-linecap="round" stroke-miterlimit="3" transform="translate(400.94,530.27) scale(15.217,-14.700)"><use href="#g5" x="0.000"/><use href="#g4" x="0.800"/></g>
<g fill="none" stroke="#1c1c1c" stroke-width="0.1059" stroke-linecap="round" stroke-miterlimit="3" transform="translate(439.19,530.27) scale(13.632,-14.700)"><use href="#g1" x="0.000"/><use href="#g8" x="0.520"/><use href="#g10" x="1.320"/><use href="#g11" x="2.080"/><use href="#g6" x="2.420"/></g>
<g fill="none" stroke="#1c1c1c" stroke-width="0.0979" stroke-linecap="round" stroke-miterlimit="3" transform="translate(490.13,530.27) scale(15.936,-14.700)"><use href="#g7" x="0.000"/><use href="#g6" x="0.800"/><use href="#g11" x="1.560"/><use href="#g6" x="1.900"/></g>
<g fill="none" stroke="#1c1c1c" stroke-width="0.0978" stroke-linecap="round" stroke-miterlimit="3" transform="translate(546.79,530.27) scale(15.961,-14.700)"><use href="#g1" x="0.000"/><use href="#g7" x="0.520"/><use href="#g1" x="1.320"/></g>
<g fill="none" stroke="#1c1c1c" stroke-width="0.1022" stroke-linecap="round" stroke-miterlimit="3" transform="translate(595.30,530.27) scale(14.649,-14.700)"><use href="#g1" x="0.000"/><use href="#g3" x="0.520"/><use href="#g0" x="1.280"/></g>
<g fill="none" stroke="#1c1c1c" stroke-width="0.1070" stroke-linecap="round" stroke-miterlimit="3" transform="translate(642.62,530.27) scale(13.349,-14.700)"><use href="#g3" x="0.000"/><use href="#g9" x="0.760"/><use href="#g6" x="1.480"/></g>
<line x1="695.67" y1="525.12" x2="720.07" y2="520.83" stroke="#808080" stroke-width="0.9"/>
<g fill="none" stroke="#1c1c1c" stroke-width="0.1057" stroke-linecap="round" stroke-miterlimit="3" transform="translate(741.79,530.27) scale(13.690,-14.700)"><use href="#g1" x="0.000"/><use href="#g5" x="0.520"/><use href="#g0" x="1.320"/></g>
<g fill="none" stroke="#1c1c1c" stroke-width="0.1140" stroke-linecap="round" stroke-miterlimit="3" transform="translate(797.54,530.27) scale(11.620,-14.700)"><use href="#g6" x="0.000"/><use href="#g5" x="0.760"/></g>
<text x="21" y="563.93" font-size="23.5" fill="#23238e" stroke="#23238e" stroke-width="0.35">MP-55RZ</text>
<g fill="none" stroke="#1c1c1c" stroke-width="0.1007" stroke-linecap="round" stroke-miterlimit="3" transform="translate(154.34,562.78) scale(15.102,-14.700)"><use href="#g5" x="0.000"/><use href="#g0" x="0.800"/></g>
<g fill="none" stroke="#1c1c1c" stroke-width="0.1032" stroke-linecap="round" stroke-miterlimit="3" transform="translate(203.54,562.78) scale(14.384,-14.700)"><use href="#g7" x="0.000"/><use href="#g5" x="0.800"/></g>
<g fill="none" stroke="#1c1c1c" stroke-width="0.0965" stroke-linecap="round" stroke-miterlimit="3" transform="translate(248.16,562.78) scale(16.387,-14.700)"><use href="#g1" x="0.000"/><use href="#g0" x="0.520"/><use href="#g0" x="1.320"/></g>
<g fill="none" stroke="#1c1c1c" stroke-width="0.1037" stroke-linecap="round" stroke-miterlimit="3" transform="translate(308.15,562.78) scale(14.242,-14.700)"><use href="#g8" x="0.000"/></g>
<g fill="none" stroke="#1c1c1c" stroke-width="0.1080" stroke-linecap="round" stroke-miterlimit="3" transform="translate(345.74,562.78) scale(13.068,-14.700)"><use href="#g6" x="0.000"/><use href="#g7" x="0.760"/><use href="#g11" x="1.560"/><use href="#g6" x="1.900"/></g>
<g fill="none" stroke="#1c1c1c" stroke-width="0.1003" stroke-linecap="round" stroke-miterlimit="3" transform="translate(400.94,562.78) scale(15.217,-14.700)"><use href="#g5" x="0.000"/><use href="#g4" x="0.800"/></g>
<g fill="none" stroke="#1c1c1c" stroke-width="0.1059" stroke-linecap="round" stroke-miterlimit="3" transform="translate(439.19,562.78) scale(13.632,-14.700)"><use href="#g1" x="0.000"/><use href="#g8" x="0.520"/><use href="#g10" x="1.320"/><use href="#g11" x="2.080"/><use href="#g6" x="2.420"/></g>
<g fill="none" stroke="#1c1c1c" stroke-width="0.0979" stroke-linecap="round" stroke-miterlimit="3" transform="translate(490.13,562.78) scale(15.936,-14.700)"><use href="#g7" x="0.000"/><use href="#g6" x="0.800"/><use href="#g11" x="1.560"/><use href="#g6" x="1.900"/></g>
<g fill="none" stroke="#1c1c1c" stroke-width="0.0978" stroke-linecap="round" stroke-miterlimit="3" transform="translate(546.79,562.78) scale(15.961,-14.700)"><use href="#g1" x="0.000"/><use href="#g7" x="0.520"/><use href="#g1" x="1.320"/></g>
<g fill="none" stroke="#1c1c1c" stroke-width="0.1022" stroke-linecap="round" stroke-miterlimit="3" transform="translate(595.30,562.78) scale(14.649,-14.700)"><use href="#g1" x="0.000"/><use href="#g3" x="0.520"/><use href="#g0" x="1.280"/></g>
<g fill="none" stroke="#1c1c1c" stroke-width="0.1070" stroke-linecap="round" stroke-miterlimit="3" transform="translate(642.62,562.78) scale(13.349,-14.700)"><use href="#g3" x="0.000"/><use href="#g9" x="0.760"/><use href="#g6" x="1.480"/></g>
<line x1="695.67" y1="556.83" x2="720.07" y2="552.53" stroke="#808080" stroke-width="0.9"/>
<g fill="none" stroke="#1c1c1c" stroke-width="0.1057" stroke-linecap="round" stroke-miterlimit="3" transform="translate(741.79,562.78) scale(13.690,-14.700)"><use href="#g1" x="0.000"/><use href="#g5" x="0.520"/><use href="#g0" x="1.320"/></g>
<g fill="none" stroke="#1c1c1c" stroke-width="0.1140" stroke-linecap="round" stroke-miterlimit="3" transform="translate(797.54,562.78) scale(11.620,-14.700)"><use href="#g6" x="0.000"/><use href="#g5" x="0.760"/></g>
<text x="21" y="595.64" font-size="23.5" fill="#23238e" stroke="#23238e" stroke-width="0.35">MP-70R</text>
<g fill="none" stroke="#1c1c1c" stroke-width="0.1011" stroke-linecap="round" stroke-miterlimit="3" transform="translate(155.75,595.09) scale(14.964,-14.700)"><use href="#g9" x="0.000"/><use href="#g0" x="0.720"/></g>
<g fill="none" stroke="#1c1c1c" stroke-width="0.1044" stroke-linecap="round" stroke-miterlimit="3" transform="translate(204.27,595.09) scale(14.041,-14.700)"><use href="#g8" x="0.000"/><use href="#g7" x="0.800"/></g>
<g fill="none" stroke="#1c1c1c" stroke-width="0.0944" stroke-linecap="round" stroke-miterlimit="3" transform="translate(248.10,595.09) scale(17.076,-14.700)"><use href="#g1" x="0.000"/><use href="#g0" x="0.520"/><use href="#g10" x="1.320"/></g>
<g fill="none" stroke="#1c1c1c" stroke-width="0.1007" stroke-linecap="round" stroke-miterlimit="3" transform="translate(299.39,595.09) scale(15.086,-14.700)"><use href="#g8" x="0.000"/><use href="#g11" x="0.800"/><use href="#g6" x="1.140"/></g>
<g fill="none" stroke="#1c1c1c" stroke-width="0.1059" stroke-linecap="round" stroke-miterlimit="3" transform="translate(340.50,595.09) scale(13.636,-14.700)"><use href="#g6" x="0.000"/><use href="#g6" x="0.760"/><use href="#g11" x="1.520"/><use href="#g9" x="1.860"/><use href="#g6" x="2.580"/></g>
<g fill="none" stroke="#1c1c1c" stroke-width="0.1014" stroke-linecap="round" stroke-miterlimit="3" transform="translate(400.96,595.09) scale(14.898,-14.700)"><use href="#g5" x="0.000"/><use href="#g5" x="0.800"/></g>
<g fill="none" stroke="#1c1c1c" stroke-width="0.1050" stroke-linecap="round" stroke-miterlimit="3" transform="translate(446.27,595.09) scale(13.884,-14.700)"><use href="#g1" x="0.000"/><use href="#g9" x="0.520"/><use href="#g9" x="1.240"/></g>
<g fill="none" stroke="#1c1c1c" stroke-width="0.1036" stroke-linecap="round" stroke-miterlimit="3" transform="translate(499.25,595.09) scale(14.247,-14.700)"><use href="#g7" x="0.000"/><use href="#g7" x="0.800"/></g>
<g fill="none" stroke="#1c1c1c" stroke-width="0.0978" stroke-linecap="round" stroke-miterlimit="3" transform="translate(546.79,595.09) scale(15.961,-14.700)"><use href="#g1" x="0.000"/><use href="#g7" x="0.520"/><use href="#g1" x="1.320"/></g>
<g fill="none" stroke="#1c1c1c" stroke-width="0.1011" stroke-linecap="round" stroke-miterlimit="3" transform="translate(595.28,595.09) scale(14.987,-14.700)"><use href="#g1" x="0.000"/><use href="#g5" x="0.520"/><use href="#g3" x="1.320"/></g>
<g fill="none" stroke="#1c1c1c" stroke-width="0.1071" stroke-linecap="round" stroke-miterlimit="3" transform="translate(642.62,595.09) scale(13.302,-14.700)"><use href="#g3" x="0.000"/><use href="#g7" x="0.760"/><use href="#g9" x="1.560"/></g>
<g fill="none" stroke="#1c1c1c" stroke-width="0.1134" stroke-linecap="round" stroke-miterlimit="3" transform="translate(692.43,595.09) scale(11.751,-14.700)"><use href="#g3" x="0.000"/><use href="#g0" x="0.760"/><use href="#g3" x="1.560"/></g>
<g fill="none" stroke="#1c1c1c" stroke-width="0.1034" stroke-linecap="round" stroke-miterlimit="3" transform="translate(741.73,595.09) scale(14.308,-14.700)"><use href="#g1" x="0.000"/><use href="#g5" x="0.520"/><use href="#g3" x="1.320"/></g>
<g fill="none" stroke="#1c1c1c" stroke-width="0.1009" stroke-linecap="round" stroke-miterlimit="3" transform="translate(794.27,595.09) scale(15.046,-14.700)"><use href="#g1" x="0.000"/><use href="#g1" x="0.520"/><use href="#g10" x="1.040"/></g>
<text x="21" y="627.35" font-size="23.5" fill="#23238e" stroke="#23238e" stroke-width="0.35">MP-70RM</text>
<g fill="none" stroke="#1c1c1c" stroke-width="0.1011" stroke-linecap="round" stroke-miterlimit="3" transform="translate(155.75,626.00) scale(14.964,-14.700)"><use href="#g9" x="0.000"/><use href="#g0" x="0.720"/></g>
<g fill="none" stroke="#1c1c1c" stroke-width="0.1044" stroke-linecap="round" stroke-miterlimit="3" transform="translate(204.27,626.70) scale(14.041,-14.700)"><use href="#g8" x="0.000"/><use href="#g7" x="0.800"/></g>
<g fill="none" stroke="#1c1c1c" stroke-width="0.0944" stroke-linecap="round" stroke-miterlimit="3" transform="translate(248.10,626.00) scale(17.076,-14.700)"><use href="#g1" x="0.000"/><use href="#g0" x="0.520"/><use href="#g10" x="1.320"/></g>
<g fill="none" stroke="#1c1c1c" stroke-width="0.1007" stroke-linecap="round" stroke-miterlimit="3" transform="translate(299.39,626.00) scale(15.086,-14.700)"><use href="#g8" x="0.000"/><use href="#g11" x="0.800"/><use href="#g6" x="1.140"/></g>
<g fill="none" stroke="#1c1c1c" stroke-width="0.1059" stroke-linecap="round" stroke-miterlimit="3" transform="translate(340.50,626.00) scale(13.636,-14.700)"><use href="#g6" x="0.000"/><use href="#g3" x="0.760"/><use href="#g11" x="1.520"/><use href="#g9" x="1.860"/><use href="#g6" x="2.580"/></g>
<g fill="none" stroke="#1c1c1c" stroke-width="0.1014" stroke-linecap="round" stroke-miterlimit="3" transform="translate(400.96,627.20) scale(14.898,-14.700)"><use href="#g5" x="0.000"/><use href="#g5" x="0.800"/></g>
<g fill="none" stroke="#1c1c1c" stroke-width="0.1045" stroke-linecap="round" stroke-miterlimit="3" transform="translate(446.26,626.00) scale(14.005,-14.700)"><use href="#g1" x="0.000"/><use href="#g9" x="0.520"/><use href="#g5" x="1.240"/></g>
<g fill="none" stroke="#1c1c1c" stroke-width="0.1049" stroke-linecap="round" stroke-miterlimit="3" transform="translate(499.78,626.00) scale(13.904,-14.700)"><use href="#g7" x="0.000"/><use href="#g7" x="0.800"/></g>
<g fill="none" stroke="#1c1c1c" stroke-width="0.1015" stroke-linecap="round" stroke-miterlimit="3" transform="translate(546.39,626.00) scale(14.857,-14.700)"><use href="#g1" x="0.000"/><use href="#g6" x="0.520"/><use href="#g7" x="1.280"/></g>
<g fill="none" stroke="#1c1c1c" stroke-width="0.1011" stroke-linecap="round" stroke-miterlimit="3" transform="translate(595.28,626.00) scale(14.987,-14.700)"><use href="#g1" x="0.000"/><use href="#g5" x="0.520"/><use href="#g3" x="1.320"/></g>
<g fill="none" stroke="#1c1c1c" stroke-width="0.1108" stroke-linecap="round" stroke-miterlimit="3" transform="translate(643.08,626.00) scale(12.387,-14.700)"><use href="#g3" x="0.000"/><use href="#g7" x="0.760"/><use href="#g5" x="1.560"/></g>
<g fill="none" stroke="#1c1c1c" stroke-width="0.1134" stroke-linecap="round" stroke-miterlimit="3" transform="translate(692.43,626.00) scale(11.751,-14.700)"><use href="#g3" x="0.000"/><use href="#g0" x="0.760"/><use href="#g3" x="1.560"/></g>
<g fill="none" stroke="#1c1c1c" stroke-width="0.1034" stroke-linecap="round" stroke-miterlimit="3" transform="translate(741.73,626.00) scale(14.308,-14.700)"><use href="#g1" x="0.000"/><use href="#g5" x="0.520"/><use href="#g3" x="1.320"/></g>
<g fill="none" stroke="#1c1c1c" stroke-width="0.1009" stroke-linecap="round" stroke-miterlimit="3" transform="translate(794.27,626.00) scale(15.046,-14.700)"><use href="#g1" x="0.000"/><use href="#g1" x="0.520"/><use href="#g10" x="1.040"/></g>
<text x="21" y="659.06" font-size="23.5" fill="#23238e" stroke="#23238e" stroke-width="0.35">MP-70R</text>
<text x="111.6" y="659.26" font-size="24" fill="#2a2a96" textLength="13.4" lengthAdjust="spacingAndGlyphs">Z</text>
<g fill="none" stroke="#1c1c1c" stroke-width="0.1011" stroke-linecap="round" stroke-miterlimit="3" transform="translate(155.75,657.91) scale(14.964,-14.700)"><use href="#g9" x="0.000"/><use href="#g0" x="0.720"/></g>
<g fill="none" stroke="#1c1c1c" stroke-width="0.1032" stroke-linecap="round" stroke-miterlimit="3" transform="translate(205.94,657.91) scale(14.384,-14.700)"><use href="#g8" x="0.000"/><use href="#g7" x="0.800"/></g>
<g fill="none" stroke="#1c1c1c" stroke-width="0.0949" stroke-linecap="round" stroke-miterlimit="3" transform="translate(249.81,657.91) scale(16.919,-14.700)"><use href="#g1" x="0.000"/><use href="#g0" x="0.520"/><use href="#g10" x="1.320"/></g>
<g fill="none" stroke="#1c1c1c" stroke-width="0.1007" stroke-linecap="round" stroke-miterlimit="3" transform="translate(299.39,657.91) scale(15.086,-14.700)"><use href="#g8" x="0.000"/><use href="#g11" x="0.800"/><use href="#g6" x="1.140"/></g>
<g fill="none" stroke="#1c1c1c" stroke-width="0.0941" stroke-linecap="round" stroke-miterlimit="3" transform="translate(342.02,657.91) scale(17.167,-14.700)"><use href="#g5" x="0.000"/><use href="#g1" x="0.800"/><use href="#g11" x="1.320"/><use href="#g7" x="1.660"/></g>
<g fill="none" stroke="#1c1c1c" stroke-width="0.0973" stroke-linecap="round" stroke-miterlimit="3" transform="translate(391.88,657.91) scale(16.129,-14.700)"><use href="#g5" x="0.000"/><use href="#g9" x="0.800"/><use href="#g11" x="1.520"/><use href="#g6" x="1.860"/></g>
<g fill="none" stroke="#1c1c1c" stroke-width="0.0949" stroke-linecap="round" stroke-miterlimit="3" transform="translate(444.81,657.91) scale(16.907,-14.700)"><use href="#g1" x="0.000"/><use href="#g7" x="0.520"/><use href="#g4" x="1.320"/></g>
<g fill="none" stroke="#1c1c1c" stroke-width="0.1049" stroke-linecap="round" stroke-miterlimit="3" transform="translate(499.78,657.91) scale(13.904,-14.700)"><use href="#g7" x="0.000"/><use href="#g7" x="0.800"/></g>
<g fill="none" stroke="#1c1c1c" stroke-width="0.0986" stroke-linecap="round" stroke-miterlimit="3" transform="translate(546.31,657.91) scale(15.726,-14.700)"><use href="#g1" x="0.000"/><use href="#g7" x="0.520"/><use href="#g9" x="1.320"/></g>
<g fill="none" stroke="#1c1c1c" stroke-width="0.0980" stroke-linecap="round" stroke-miterlimit="3" transform="translate(595.70,657.91) scale(15.927,-14.700)"><use href="#g1" x="0.000"/><use href="#g5" x="0.520"/><use href="#g3" x="1.320"/></g>
<g fill="none" stroke="#1c1c1c" stroke-width="0.1056" stroke-linecap="round" stroke-miterlimit="3" transform="translate(638.29,657.91) scale(13.710,-14.700)"><use href="#g3" x="0.000"/><use href="#g6" x="0.760"/><use href="#g4" x="1.520"/><use href="#g11" x="2.260"/><use href="#g1" x="2.600"/></g>
<g fill="none" stroke="#1c1c1c" stroke-width="0.1134" stroke-linecap="round" stroke-miterlimit="3" transform="translate(692.43,657.91) scale(11.751,-14.700)"><use href="#g3" x="0.000"/><use href="#g0" x="0.760"/><use href="#g3" x="1.560"/></g>
<g fill="none" stroke="#1c1c1c" stroke-width="0.0960" stroke-linecap="round" stroke-miterlimit="3" transform="translate(741.54,657.91) scale(16.554,-14.700)"><use href="#g1" x="0.000"/><use href="#g5" x="0.520"/><use href="#g3" x="1.320"/></g>
<g fill="none" stroke="#1c1c1c" stroke-width="0.1025" stroke-linecap="round" stroke-miterlimit="3" transform="translate(795.51,657.91) scale(14.557,-14.700)"><use href="#g1" x="0.000"/><use href="#g1" x="0.520"/><use href="#g10" x="1.040"/></g>
<text x="21" y="690.77" font-size="23.5" fill="#23238e" stroke="#23238e" stroke-width="0.35">MP-100R</text>
<g fill="none" stroke="#1c1c1c" stroke-width="0.1011" stroke-linecap="round" stroke-miterlimit="3" transform="translate(155.75,688.22) scale(14.964,-14.700)"><use href="#g9" x="0.000"/><use href="#g0" x="0.720"/></g>
<g fill="none" stroke="#1c1c1c" stroke-width="0.0967" stroke-linecap="round" stroke-miterlimit="3" transform="translate(197.96,690.12) scale(16.336,-14.700)"><use href="#g1" x="0.000"/><use href="#g0" x="0.520"/><use href="#g0" x="1.320"/></g>
<g fill="none" stroke="#1c1c1c" stroke-width="0.0887" stroke-linecap="round" stroke-miterlimit="3" transform="translate(247.93,689.42) scale(19.110,-14.700)"><use href="#g1" x="0.000"/><use href="#g1" x="0.520"/><use href="#g0" x="1.040"/></g>
<g fill="none" stroke="#1c1c1c" stroke-width="0.1037" stroke-linecap="round" stroke-miterlimit="3" transform="translate(308.15,688.72) scale(14.242,-14.700)"><use href="#g8" x="0.000"/></g>
<g fill="none" stroke="#1c1c1c" stroke-width="0.1107" stroke-linecap="round" stroke-miterlimit="3" transform="translate(353.38,687.72) scale(12.397,-14.700)"><use href="#g7" x="0.000"/><use href="#g7" x="0.800"/></g>
<g fill="none" stroke="#1c1c1c" stroke-width="0.1023" stroke-linecap="round" stroke-miterlimit="3" transform="translate(400.97,688.72) scale(14.626,-14.700)"><use href="#g5" x="0.000"/><use href="#g5" x="0.800"/></g>
<g fill="none" stroke="#1c1c1c" stroke-width="0.1059" stroke-linecap="round" stroke-miterlimit="3" transform="translate(439.19,688.72) scale(13.632,-14.700)"><use href="#g1" x="0.000"/><use href="#g8" x="0.520"/><use href="#g6" x="1.320"/><use href="#g11" x="2.080"/><use href="#g6" x="2.420"/></g>
<g fill="none" stroke="#1c1c1c" stroke-width="0.1055" stroke-linecap="round" stroke-miterlimit="3" transform="translate(501.13,688.72) scale(13.741,-14.700)"><use href="#g9" x="0.000"/><use href="#g5" x="0.720"/></g>
<g fill="none" stroke="#1c1c1c" stroke-width="0.1013" stroke-linecap="round" stroke-miterlimit="3" transform="translate(546.88,688.72) scale(14.907,-14.700)"><use href="#g1" x="0.000"/><use href="#g9" x="0.520"/><use href="#g5" x="1.240"/></g>
<g fill="none" stroke="#1c1c1c" stroke-width="0.1013" stroke-linecap="round" stroke-miterlimit="3" transform="translate(595.28,688.72) scale(14.909,-14.700)"><use href="#g1" x="0.000"/><use href="#g6" x="0.520"/><use href="#g7" x="1.280"/></g>
<g fill="none" stroke="#1c1c1c" stroke-width="0.1082" stroke-linecap="round" stroke-miterlimit="3" transform="translate(643.04,688.72) scale(13.033,-14.700)"><use href="#g4" x="0.000"/><use href="#g3" x="0.740"/><use href="#g3" x="1.500"/></g>
<g fill="none" stroke="#1c1c1c" stroke-width="0.1134" stroke-linecap="round" stroke-miterlimit="3" transform="translate(692.43,688.72) scale(11.751,-14.700)"><use href="#g3" x="0.000"/><use href="#g0" x="0.760"/><use href="#g3" x="1.560"/></g>
<g fill="none" stroke="#1c1c1c" stroke-width="0.1046" stroke-linecap="round" stroke-miterlimit="3" transform="translate(741.76,686.12) scale(13.974,-14.700)"><use href="#g1" x="0.000"/><use href="#g6" x="0.520"/><use href="#g0" x="1.280"/></g>
<g fill="none" stroke="#1c1c1c" stroke-width="0.1034" stroke-linecap="round" stroke-miterlimit="3" transform="translate(794.33,686.12) scale(14.312,-14.700)"><use href="#g1" x="0.000"/><use href="#g1" x="0.520"/><use href="#g10" x="1.040"/></g>
<text x="21" y="722.48" font-size="23.5" fill="#23238e" stroke="#23238e" stroke-width="0.35">MP-100RM</text>
<g fill="none" stroke="#1c1c1c" stroke-width="0.1011" stroke-linecap="round" stroke-miterlimit="3" transform="translate(155.75,720.12) scale(14.964,-14.700)"><use href="#g9" x="0.000"/><use href="#g0" x="0.720"/></g>
<g fill="none" stroke="#1c1c1c" stroke-width="0.0967" stroke-linecap="round" stroke-miterlimit="3" transform="translate(197.96,721.62) scale(16.336,-14.700)"><use href="#g1" x="0.000"/><use href="#g0" x="0.520"/><use href="#g0" x="1.320"/></g>
<g fill="none" stroke="#1c1c1c" stroke-width="0.0887" stroke-linecap="round" stroke-miterlimit="3" transform="translate(247.93,720.92) scale(19.110,-14.700)"><use href="#g1" x="0.000"/><use href="#g1" x="0.520"/><use href="#g0" x="1.040"/></g>
<g fill="none" stroke="#1c1c1c" stroke-width="0.1037" stroke-linecap="round" stroke-miterlimit="3" transform="translate(308.15,720.33) scale(14.242,-14.700)"><use href="#g8" x="0.000"/></g>
<g fill="none" stroke="#1c1c1c" stroke-width="0.1107" stroke-linecap="round" stroke-miterlimit="3" transform="translate(353.38,719.62) scale(12.397,-14.700)"><use href="#g7" x="0.000"/><use href="#g7" x="0.800"/></g>
<g fill="none" stroke="#1c1c1c" stroke-width="0.1023" stroke-linecap="round" stroke-miterlimit="3" transform="translate(400.97,720.33) scale(14.626,-14.700)"><use href="#g5" x="0.000"/><use href="#g5" x="0.800"/></g>
<g fill="none" stroke="#1c1c1c" stroke-width="0.1059" stroke-linecap="round" stroke-miterlimit="3" transform="translate(439.19,720.33) scale(13.632,-14.700)"><use href="#g1" x="0.000"/><use href="#g8" x="0.520"/><use href="#g6" x="1.320"/><use href="#g11" x="2.080"/><use href="#g6" x="2.420"/></g>
<g fill="none" stroke="#1c1c1c" stroke-width="0.1055" stroke-linecap="round" stroke-miterlimit="3" transform="translate(501.13,720.33) scale(13.741,-14.700)"><use href="#g9" x="0.000"/><use href="#g5" x="0.720"/></g>
<g fill="none" stroke="#1c1c1c" stroke-width="0.1013" stroke-linecap="round" stroke-miterlimit="3" transform="translate(546.88,720.33) scale(14.907,-14.700)"><use href="#g1" x="0.000"/><use href="#g9" x="0.520"/><use href="#g5" x="1.240"/></g>
<g fill="none" stroke="#1c1c1c" stroke-width="0.1013" stroke-linecap="round" stroke-miterlimit="3" transform="translate(595.28,720.33) scale(14.909,-14.700)"><use href="#g1" x="0.000"/><use href="#g6" x="0.520"/><use href="#g7" x="1.280"/></g>
<g fill="none" stroke="#1c1c1c" stroke-width="0.1082" stroke-linecap="round" stroke-miterlimit="3" transform="translate(643.04,720.33) scale(13.033,-14.700)"><use href="#g4" x="0.000"/><use href="#g3" x="0.740"/><use href="#g3" x="1.500"/></g>
<g fill="none" stroke="#1c1c1c" stroke-width="0.1134" stroke-linecap="round" stroke-miterlimit="3" transform="translate(692.43,720.33) scale(11.751,-14.700)"><use href="#g3" x="0.000"/><use href="#g0" x="0.760"/><use href="#g3" x="1.560"/></g>
<g fill="none" stroke="#1c1c1c" stroke-width="0.1046" stroke-linecap="round" stroke-miterlimit="3" transform="translate(741.76,717.92) scale(13.974,-14.700)"><use href="#g1" x="0.000"/><use href="#g6" x="0.520"/><use href="#g0" x="1.280"/></g>
<g fill="none" stroke="#1c1c1c" stroke-width="0.1034" stroke-linecap="round" stroke-miterlimit="3" transform="translate(794.33,717.92) scale(14.312,-14.700)"><use href="#g1" x="0.000"/><use href="#g1" x="0.520"/><use href="#g10" x="1.040"/></g>
<text x="21" y="754.18" font-size="23.5" fill="#23238e" stroke="#23238e" stroke-width="0.35">MP-100RX</text>
<g fill="none" stroke="#1c1c1c" stroke-width="0.1011" stroke-linecap="round" stroke-miterlimit="3" transform="translate(155.75,751.53) scale(14.964,-14.700)"><use href="#g9" x="0.000"/><use href="#g0" x="0.720"/></g>
<g fill="none" stroke="#1c1c1c" stroke-width="0.0967" stroke-linecap="round" stroke-miterlimit="3" transform="translate(197.96,754.53) scale(16.336,-14.700)"><use href="#g1" x="0.000"/><use href="#g0" x="0.520"/><use href="#g0" x="1.320"/></g>
<g fill="none" stroke="#1c1c1c" stroke-width="0.0887" stroke-linecap="round" stroke-miterlimit="3" transform="translate(247.93,753.43) scale(19.110,-14.700)"><use href="#g1" x="0.000"/><use href="#g1" x="0.520"/><use href="#g0" x="1.040"/></g>
<g fill="none" stroke="#1c1c1c" stroke-width="0.1037" stroke-linecap="round" stroke-miterlimit="3" transform="translate(308.15,753.23) scale(14.242,-14.700)"><use href="#g8" x="0.000"/></g>
<g fill="none" stroke="#1c1c1c" stroke-width="0.1086" stroke-linecap="round" stroke-miterlimit="3" transform="translate(353.35,752.63) scale(12.920,-14.700)"><use href="#g7" x="0.000"/><use href="#g4" x="0.800"/></g>
<g fill="none" stroke="#1c1c1c" stroke-width="0.1023" stroke-linecap="round" stroke-miterlimit="3" transform="translate(400.97,753.23) scale(14.626,-14.700)"><use href="#g5" x="0.000"/><use href="#g0" x="0.800"/></g>
<g fill="none" stroke="#1c1c1c" stroke-width="0.1066" stroke-linecap="round" stroke-miterlimit="3" transform="translate(439.21,753.23) scale(13.453,-14.700)"><use href="#g1" x="0.000"/><use href="#g8" x="0.520"/><use href="#g7" x="1.320"/><use href="#g11" x="2.120"/><use href="#g6" x="2.460"/></g>
<g fill="none" stroke="#1c1c1c" stroke-width="0.1055" stroke-linecap="round" stroke-miterlimit="3" transform="translate(501.13,753.23) scale(13.741,-14.700)"><use href="#g9" x="0.000"/><use href="#g5" x="0.720"/></g>
<g fill="none" stroke="#1c1c1c" stroke-width="0.1013" stroke-linecap="round" stroke-miterlimit="3" transform="translate(546.88,753.23) scale(14.907,-14.700)"><use href="#g1" x="0.000"/><use href="#g9" x="0.520"/><use href="#g5" x="1.240"/></g>
<g fill="none" stroke="#1c1c1c" stroke-width="0.1013" stroke-linecap="round" stroke-miterlimit="3" transform="translate(595.28,753.23) scale(14.909,-14.700)"><use href="#g1" x="0.000"/><use href="#g6" x="0.520"/><use href="#g7" x="1.280"/></g>
<g fill="none" stroke="#1c1c1c" stroke-width="0.1081" stroke-linecap="round" stroke-miterlimit="3" transform="translate(643.04,753.23) scale(13.043,-14.700)"><use href="#g4" x="0.000"/><use href="#g3" x="0.740"/><use href="#g4" x="1.500"/></g>
<g fill="none" stroke="#1c1c1c" stroke-width="0.1134" stroke-linecap="round" stroke-miterlimit="3" transform="translate(692.43,753.23) scale(11.751,-14.700)"><use href="#g3" x="0.000"/><use href="#g0" x="0.760"/><use href="#g6" x="1.560"/></g>
<g fill="none" stroke="#1c1c1c" stroke-width="0.1038" stroke-linecap="round" stroke-miterlimit="3" transform="translate(741.74,751.53) scale(14.195,-14.700)"><use href="#g1" x="0.000"/><use href="#g7" x="0.520"/><use href="#g9" x="1.320"/></g>
<g fill="none" stroke="#1c1c1c" stroke-width="0.1102" stroke-linecap="round" stroke-miterlimit="3" transform="translate(794.49,751.03) scale(12.519,-14.700)"><use href="#g1" x="0.000"/><use href="#g3" x="0.520"/><use href="#g5" x="1.280"/></g>
<text x="21" y="785.89" font-size="23.5" fill="#23238e" stroke="#23238e" stroke-width="0.35">MP-120R</text>
<g fill="none" stroke="#1c1c1c" stroke-width="0.1014" stroke-linecap="round" stroke-miterlimit="3" transform="translate(154.91,786.24) scale(14.894,-14.700)"><use href="#g8" x="0.000"/><use href="#g10" x="0.800"/></g>
<g fill="none" stroke="#1c1c1c" stroke-width="0.0951" stroke-linecap="round" stroke-miterlimit="3" transform="translate(197.92,786.24) scale(16.850,-14.700)"><use href="#g1" x="0.000"/><use href="#g4" x="0.520"/><use href="#g0" x="1.260"/></g>
<g fill="none" stroke="#1c1c1c" stroke-width="0.0887" stroke-linecap="round" stroke-miterlimit="3" transform="translate(247.93,785.04) scale(19.110,-14.700)"><use href="#g1" x="0.000"/><use href="#g1" x="0.520"/><use href="#g0" x="1.040"/></g>
<g fill="none" stroke="#1c1c1c" stroke-width="0.0924" stroke-linecap="round" stroke-miterlimit="3" transform="translate(303.64,786.24) scale(17.758,-14.700)"><use href="#g1" x="0.000"/><use href="#g3" x="0.520"/></g>
<g fill="none" stroke="#1c1c1c" stroke-width="0.1089" stroke-linecap="round" stroke-miterlimit="3" transform="translate(353.22,783.94) scale(12.837,-14.700)"><use href="#g10" x="0.000"/><use href="#g0" x="0.760"/></g>
<g fill="none" stroke="#1c1c1c" stroke-width="0.0915" stroke-linecap="round" stroke-miterlimit="3" transform="translate(400.58,785.04) scale(18.081,-14.700)"><use href="#g6" x="0.000"/><use href="#g1" x="0.760"/></g>
<g fill="none" stroke="#1c1c1c" stroke-width="0.1059" stroke-linecap="round" stroke-miterlimit="3" transform="translate(439.19,785.84) scale(13.632,-14.700)"><use href="#g1" x="0.000"/><use href="#g10" x="0.520"/><use href="#g5" x="1.280"/><use href="#g11" x="2.080"/><use href="#g6" x="2.420"/></g>
<g fill="none" stroke="#1c1c1c" stroke-width="0.1047" stroke-linecap="round" stroke-miterlimit="3" transform="translate(500.97,785.84) scale(13.942,-14.700)"><use href="#g8" x="0.000"/><use href="#g4" x="0.800"/></g>
<g fill="none" stroke="#1c1c1c" stroke-width="0.1043" stroke-linecap="round" stroke-miterlimit="3" transform="translate(544.77,785.84) scale(14.055,-14.700)"><use href="#g3" x="0.000"/><use href="#g0" x="0.760"/><use href="#g10" x="1.560"/></g>
<g fill="none" stroke="#1c1c1c" stroke-width="0.1024" stroke-linecap="round" stroke-miterlimit="3" transform="translate(595.31,785.84) scale(14.606,-14.700)"><use href="#g1" x="0.000"/><use href="#g5" x="0.520"/><use href="#g0" x="1.320"/></g>
<g fill="none" stroke="#1c1c1c" stroke-width="0.1094" stroke-linecap="round" stroke-miterlimit="3" transform="translate(643.06,785.84) scale(12.731,-14.700)"><use href="#g4" x="0.000"/><use href="#g6" x="0.740"/><use href="#g8" x="1.500"/></g>
<g fill="none" stroke="#1c1c1c" stroke-width="0.1128" stroke-linecap="round" stroke-miterlimit="3" transform="translate(694.82,785.84) scale(11.907,-14.700)"><use href="#g3" x="0.000"/><use href="#g1" x="0.760"/><use href="#g7" x="1.280"/></g>
<g fill="none" stroke="#1c1c1c" stroke-width="0.1027" stroke-linecap="round" stroke-miterlimit="3" transform="translate(741.72,782.74) scale(14.501,-14.700)"><use href="#g1" x="0.000"/><use href="#g10" x="0.520"/><use href="#g9" x="1.280"/></g>
<g fill="none" stroke="#1c1c1c" stroke-width="0.1078" stroke-linecap="round" stroke-miterlimit="3" transform="translate(794.43,782.04) scale(13.134,-14.700)"><use href="#g1" x="0.000"/><use href="#g3" x="0.520"/><use href="#g4" x="1.280"/></g>
</g>
</svg>
</body></html>
